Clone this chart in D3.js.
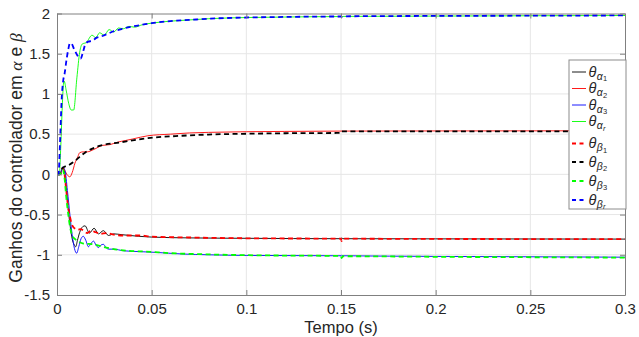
<!DOCTYPE html>
<html>
<head>
<meta charset="utf-8">
<script src="https://cdn.jsdelivr.net/npm/d3@7"></script>
<style>
  html, body { margin: 0; padding: 0; background: #fff; }
  svg { display: block; }
  text { font-family: "Liberation Sans", Arial, Helvetica, sans-serif; }
</style>
</head>
<body>
<svg id="chart" width="639" height="337"></svg>
<script>
// ---------------- data ----------------
const xTicks = [0, 0.05, 0.1, 0.15, 0.2, 0.25, 0.3];
const xTickLabels = ["0", "0.05", "0.1", "0.15", "0.2", "0.25", "0.3"];
const yTicks = [-1.5, -1, -0.5, 0, 0.5, 1, 1.5, 2];
const yTickLabels = ["-1.5", "-1", "-0.5", "0", "0.5", "1", "1.5", "2"];

// [time (s), gain]
const alpha1 = [[0,0],[0.0015,0],[0.003,0.08],[0.004,0.03],[0.005,-0.2],[0.006,-0.45],[0.007,-0.65],[0.008,-0.8],[0.0092,-0.88],[0.0099,-0.9],[0.0108,-0.82],[0.012,-0.72],[0.0136,-0.65],[0.0148,-0.64],[0.0171,-0.73],[0.0196,-0.67],[0.0219,-0.74],[0.0245,-0.7],[0.0272,-0.76],[0.03,-0.74],[0.0343,-0.75],[0.043,-0.77],[0.05,-0.78],[0.07,-0.79],[0.1,-0.795],[0.15,-0.8],[0.1503,-0.79],[0.151,-0.8],[0.2,-0.802],[0.3,-0.805]];
const alpha2 = [[0,0],[0.0015,0],[0.003,0.07],[0.004,0.05],[0.0055,-0.01],[0.0068,-0.03],[0.008,0.02],[0.0095,0.14],[0.011,0.22],[0.012,0.27],[0.014,0.28],[0.016,0.28],[0.0195,0.31],[0.024,0.36],[0.028,0.37],[0.032,0.4],[0.036,0.42],[0.04,0.44],[0.048,0.48],[0.06,0.5],[0.07,0.515],[0.08,0.522],[0.1,0.53],[0.12,0.534],[0.15,0.538],[0.2,0.54],[0.3,0.542]];
const alpha3 = [[0,0],[0.0015,0],[0.003,0.09],[0.0042,0.05],[0.0055,-0.2],[0.0068,-0.5],[0.008,-0.75],[0.0092,-0.92],[0.0104,-0.98],[0.0115,-0.9],[0.0127,-0.8],[0.0139,-0.77],[0.0152,-0.82],[0.0166,-0.9],[0.0179,-0.86],[0.0193,-0.83],[0.0206,-0.88],[0.0219,-0.91],[0.0232,-0.88],[0.0245,-0.87],[0.0259,-0.91],[0.0272,-0.93],[0.03,-0.93],[0.035,-0.95],[0.043,-0.96],[0.052,-0.97],[0.066,-0.99],[0.08,-1.0],[0.1,-1.008],[0.15,-1.012],[0.1503,-1.005],[0.151,-1.012],[0.2,-1.02],[0.3,-1.03]];
const alphaR = [[0,0],[0.0012,0],[0.002,0.35],[0.0028,0.85],[0.0034,1.12],[0.0038,1.16],[0.0048,1.05],[0.0062,0.88],[0.0075,0.8],[0.0088,0.8],[0.0105,1.2],[0.012,1.52],[0.0133,1.62],[0.0155,1.64],[0.0185,1.73],[0.0205,1.7],[0.0225,1.76],[0.025,1.73],[0.0275,1.8],[0.03,1.77],[0.0325,1.82],[0.035,1.81],[0.038,1.84],[0.041,1.83],[0.045,1.86],[0.05,1.88],[0.06,1.905],[0.07,1.92],[0.08,1.935],[0.1,1.95],[0.12,1.956],[0.15,1.962],[0.1503,1.955],[0.151,1.964],[0.2,1.968],[0.25,1.972],[0.3,1.975]];
const beta1 = [[0,0],[0.0015,0],[0.003,0.08],[0.004,0.0],[0.0048,-0.18],[0.0058,-0.39],[0.0068,-0.52],[0.0078,-0.62],[0.0088,-0.66],[0.0098,-0.68],[0.011,-0.69],[0.0125,-0.68],[0.014,-0.7],[0.016,-0.73],[0.018,-0.7],[0.0205,-0.72],[0.023,-0.74],[0.026,-0.73],[0.03,-0.75],[0.035,-0.76],[0.044,-0.76],[0.05,-0.775],[0.07,-0.785],[0.1,-0.795],[0.15,-0.8],[0.1503,-0.83],[0.151,-0.8],[0.2,-0.803],[0.3,-0.805]];
const beta2 = [[0,0],[0.0015,0],[0.003,0.08],[0.0045,0.1],[0.0065,0.12],[0.0085,0.15],[0.0106,0.19],[0.0148,0.27],[0.0219,0.35],[0.034,0.4],[0.048,0.45],[0.066,0.48],[0.08,0.495],[0.1,0.505],[0.125,0.512],[0.15,0.515],[0.1503,0.535],[0.2,0.535],[0.3,0.535]];
const beta3 = [[0,0],[0.0015,0],[0.003,0.06],[0.004,-0.05],[0.0048,-0.26],[0.0058,-0.47],[0.0068,-0.64],[0.008,-0.76],[0.0093,-0.8],[0.011,-0.83],[0.014,-0.86],[0.0192,-0.87],[0.026,-0.91],[0.037,-0.95],[0.047,-0.96],[0.06,-0.98],[0.08,-0.995],[0.1,-1.005],[0.15,-1.015],[0.1503,-1.04],[0.151,-1.018],[0.2,-1.025],[0.3,-1.035]];
const betaR = [[0,0],[0.0008,0],[0.0016,0.4],[0.0025,0.95],[0.0033,1.17],[0.004,1.25],[0.005,1.42],[0.006,1.56],[0.0068,1.63],[0.0075,1.63],[0.009,1.56],[0.011,1.47],[0.0125,1.44],[0.0135,1.5],[0.015,1.62],[0.0165,1.65],[0.0185,1.66],[0.021,1.7],[0.024,1.72],[0.027,1.75],[0.03,1.78],[0.033,1.8],[0.036,1.82],[0.04,1.84],[0.045,1.86],[0.05,1.88],[0.06,1.905],[0.07,1.92],[0.08,1.935],[0.1,1.95],[0.12,1.957],[0.15,1.963],[0.1503,1.958],[0.151,1.965],[0.2,1.97],[0.25,1.973],[0.3,1.976]];

const seriesNames = ["α1", "α2", "α3", "αr", "β1", "β2", "β3", "βr"];
const seriesData = [alpha1, alpha2, alpha3, alphaR, beta1, beta2, beta3, betaR];
const seriesColors = ["#000000", "#ff0000", "#0000ff", "#00ff00", "#ff0000", "#000000", "#00ff00", "#0000ff"];
const seriesDashed = [false, false, false, false, true, true, true, true];

// ---------------- layout ----------------
const svg = d3.select("#chart");
const L = 57, R = 625, T = 13.5, B = 295;
const x = d3.scaleLinear().domain([0, 0.3]).range([L, R]);
const y = d3.scaleLinear().domain([-1.5, 2]).range([B, T]);

const axisColor = "#808080";
const textColor = "#262626";
const fs = 15;
const lfs = 16.5;
const serif = "'Liberation Serif', 'Times New Roman', serif";

// grid
const grid = svg.append("g");
grid.selectAll("line.gx").data(xTicks.slice(1, -1)).join("line")
  .attr("x1", d => x(d)).attr("x2", d => x(d)).attr("y1", T).attr("y2", B)
  .attr("stroke", "#e6e6e6").attr("stroke-width", 1);
grid.selectAll("line.gy").data(yTicks.slice(1, -1)).join("line")
  .attr("x1", L).attr("x2", R).attr("y1", d => y(d)).attr("y2", d => y(d))
  .attr("stroke", "#e6e6e6").attr("stroke-width", 1);

// clip
svg.append("clipPath").attr("id", "clip").append("rect")
  .attr("x", L).attr("y", T - 2).attr("width", R - L).attr("height", B - T + 2);

const line = d3.line().x(d => x(d[0])).y(d => y(d[1])).curve(d3.curveMonotoneX);
const plot = svg.append("g").attr("clip-path", "url(#clip)");
seriesData.forEach((data, i) => {
  plot.append("path")
    .attr("d", line(data))
    .attr("fill", "none")
    .attr("stroke", seriesColors[i])
    .attr("stroke-width", seriesDashed[i] ? 1.8 : 0.9)
    .attr("stroke-dasharray", seriesDashed[i] ? "5,3.5" : null)
    .attr("stroke-linejoin", "round");
});

// axes
function styleAxis(g) {
  g.select(".domain").attr("stroke", axisColor).attr("stroke-width", 1);
  g.selectAll(".tick line").attr("stroke", axisColor);
  g.selectAll(".tick text").attr("fill", textColor).attr("font-size", fs)
    .attr("font-family", "'Liberation Sans', Arial, sans-serif");
}
const xAxis = d3.axisBottom(x).tickValues(xTicks).tickFormat((d, i) => xTickLabels[i])
  .tickSizeInner(-5).tickSizeOuter(0).tickPadding(8.5);
svg.append("g").attr("transform", `translate(0,${B})`).call(xAxis).call(styleAxis);
const yAxis = d3.axisLeft(y).tickValues(yTicks).tickFormat((d, i) => yTickLabels[i])
  .tickSizeInner(-5).tickSizeOuter(0).tickPadding(7);
svg.append("g").attr("transform", `translate(${L},0)`).call(yAxis).call(styleAxis);
const xTop = d3.axisTop(x).tickValues(xTicks).tickFormat("").tickSizeInner(-5).tickSizeOuter(0);
svg.append("g").attr("transform", `translate(0,${T})`).call(xTop).call(styleAxis);
const yRight = d3.axisRight(y).tickValues(yTicks).tickFormat("").tickSizeInner(-5).tickSizeOuter(0);
svg.append("g").attr("transform", `translate(${R},0)`).call(yRight).call(styleAxis);

// axis labels
svg.append("text").attr("x", (L + R) / 2).attr("y", 333).attr("text-anchor", "middle")
  .attr("font-size", lfs).attr("fill", textColor).text("Tempo (s)");
const yl = svg.append("text")
  .attr("transform", `translate(22,158) rotate(-90)`)
  .attr("text-anchor", "middle").attr("font-size", 17.5).attr("fill", textColor);
yl.append("tspan").text("Ganhos do controlador em ");
yl.append("tspan").attr("font-family", serif).attr("font-style", "italic").text("α");
yl.append("tspan").text(" e ");
yl.append("tspan").attr("font-family", serif).attr("font-style", "italic").text("β");

// legend
const lgX = 569, lgY = 60, lgW = 57, lgH = 149;
const lg = svg.append("g");
lg.append("rect").attr("x", lgX).attr("y", lgY).attr("width", lgW).attr("height", lgH)
  .attr("fill", "#fff").attr("stroke", "#8c8c8c").attr("stroke-width", 1);
const rowY = [72, 88.5, 105, 121.5, 143.5, 162, 181, 200];
seriesNames.forEach((name, i) => {
  const ry = rowY[i];
  lg.append("line").attr("x1", 572).attr("x2", 586).attr("y1", ry).attr("y2", ry)
    .attr("stroke", seriesColors[i])
    .attr("stroke-width", seriesDashed[i] ? 1.8 : 0.9)
    .attr("stroke-dasharray", seriesDashed[i] ? "4,3.5" : null);
  let cx = 588.5;
  const th = lg.append("text").attr("x", cx).attr("y", ry + 4.5)
    .attr("font-family", serif).attr("font-style", "italic").attr("fill", textColor)
    .attr("font-size", 14.5).text("θ");
  cx += th.node().getComputedTextLength() + 0.4;
  const s1 = lg.append("text").attr("x", cx).attr("y", ry + 7.5)
    .attr("font-family", serif).attr("font-style", "italic").attr("fill", textColor)
    .attr("font-size", 10.5).text(name[0]);
  cx += s1.node().getComputedTextLength() + 0.3;
  lg.append("text").attr("x", cx).attr("y", ry + 9)
    .attr("font-family", serif).attr("font-style", name[1] === "r" ? "italic" : "normal")
    .attr("fill", textColor).attr("font-size", 7.5).text(name[1]);
});
</script>
</body>
</html>
